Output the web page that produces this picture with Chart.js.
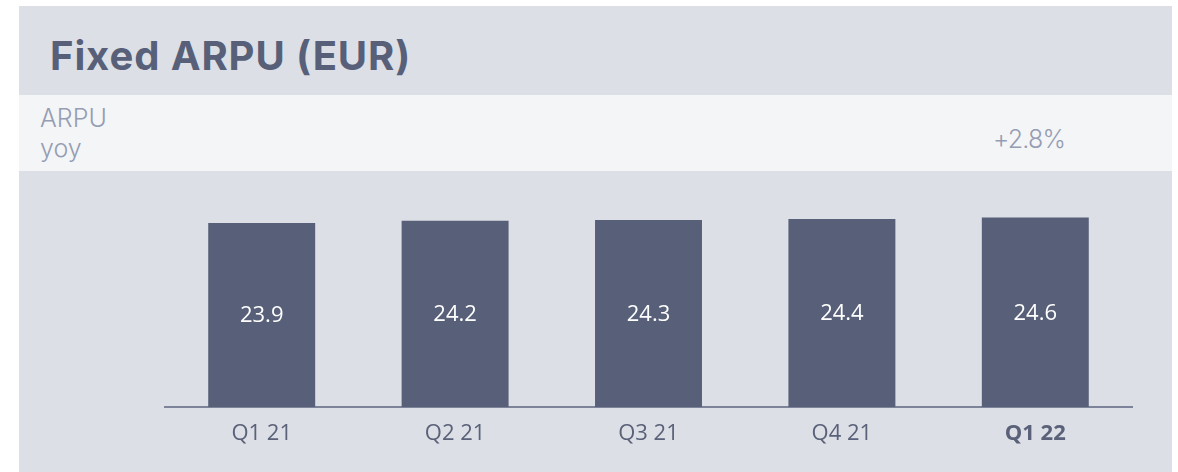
<!DOCTYPE html>
<html>
<head>
<meta charset="utf-8">
<script src="https://cdn.jsdelivr.net/npm/chart.js@4/dist/chart.umd.min.js"></script>
<style>
  body { margin: 0; background: #ffffff; width: 1178px; height: 472px; overflow: hidden; position: relative; }
  .panel { position: absolute; left: 19px; top: 6px; width: 1153px; height: 466px; background: #dcdfe6; }
  .title { position: absolute; left: 31px; top: 30px; font: 700 40px/40px Inter, sans-serif; color: #585f78; margin: 0; letter-spacing: 0.9px; }
  .band { position: absolute; left: 0; top: 89px; width: 1153px; height: 76px; background: #f4f5f7; }
  .band .lbl { position: absolute; left: 21px; top: 8px; font: 300 25px/30px Inter, sans-serif; color: #959db3; }
  .band .yoy { position: absolute; left: 970px; top: 29px; width: 80px; text-align: center; font: 300 25px/30px Inter, sans-serif; color: #959db3; letter-spacing: -0.8px; }
  .chart-box { position: absolute; left: 0; top: 165px; width: 1153px; height: 301px; }
</style>
</head>
<body>
<div class="panel">
  <h1 class="title">Fixed ARPU (EUR)</h1>
  <div class="band">
    <div class="lbl">ARPU<br>yoy</div>
    <div class="yoy" id="yoy"></div>
  </div>
  <div class="chart-box"><canvas id="chart"></canvas></div>
</div>
<script>
const quarters = ["Q1 21", "Q2 21", "Q3 21", "Q4 21", "Q1 22"];
const arpu = [23.9, 24.2, 24.3, 24.4, 24.6];
const yoyChange = "+2.8%";

document.getElementById("yoy").textContent = yoyChange;

const barLabels = {
  id: "barLabels",
  afterDatasetsDraw(chart) {
    const ctx = chart.ctx;
    const meta = chart.getDatasetMeta(0);
    ctx.save();
    ctx.fillStyle = "#ffffff";
    ctx.font = "22px 'Open Sans', sans-serif";
    ctx.textAlign = "center";
    ctx.textBaseline = "middle";
    meta.data.forEach((bar, i) => {
      const mid = (bar.y + bar.base) / 2 + 1;
      ctx.fillText(arpu[i].toFixed(1), bar.x, mid);
    });
    ctx.restore();
  }
};

new Chart(document.getElementById("chart"), {
  type: "bar",
  data: {
    labels: quarters,
    datasets: [{
      data: arpu,
      backgroundColor: "#585f78",
      barPercentage: 0.553,
      categoryPercentage: 1
    }]
  },
  options: {
    responsive: true,
    maintainAspectRatio: false,
    animation: false,
    layout: { padding: { left: 146, right: 40, top: 5, bottom: 0 } },
    plugins: { legend: { display: false }, tooltip: { enabled: false } },
    scales: {
      x: {
        grid: { display: false, drawTicks: false },
        border: { display: true, color: "#7d8499", width: 2 },
        ticks: {
          color: "#5a6178",
          padding: 14,
          font: ctx => ({ family: "'Open Sans', sans-serif", size: 22, weight: ctx.index === 4 ? "bold" : "normal" })
        },
        afterFit: scale => { scale.height = 65; }
      },
      y: {
        display: false,
        min: 0,
        max: 30
      }
    }
  },
  plugins: [barLabels]
});
</script>
</body>
</html>
